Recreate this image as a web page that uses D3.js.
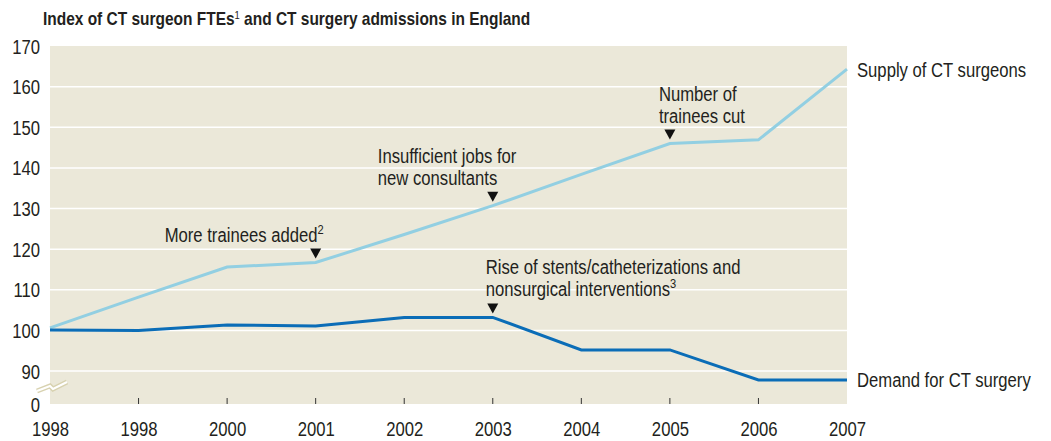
<!DOCTYPE html>
<html>
<head>
<meta charset="utf-8">
<script src="https://cdn.jsdelivr.net/npm/d3@7"></script>
<style>
  body { margin: 0; background: #fff; }
  svg text { font-family: "Liberation Sans", Arial, sans-serif; fill: #231f20; }
</style>
</head>
<body>
<div id="chart"></div>
<script>
const width = 1051;
const height = 441;

// data
const yearLabels = ['1998', '1998', '2000', '2001', '2002', '2003', '2004', '2005', '2006', '2007'];
const supply = [100.6, 108.2, 115.6, 116.7, 123.6, 130.7, 138.4, 146.0, 146.9, 164.3];
const demand = [100.1, 100.0, 101.3, 101.1, 103.2, 103.2, 95.2, 95.2, 87.8, 87.8];
const yTicks = [0, 90, 100, 110, 120, 130, 140, 150, 160, 170];
const notes = [
    { series: 'supply', i: 3, lines: ['More trainees added'], sup: '2', dx: -151 },
    { series: 'supply', i: 5, lines: ['Insufficient jobs for', 'new consultants'], sup: '', dx: -115 },
    { series: 'supply', i: 7, lines: ['Number of', 'trainees cut'], sup: '', dx: -11 },
    { series: 'demand', i: 5, lines: ['Rise of stents/catheterizations and', 'nonsurgical interventions'], sup: '3', dx: -7 }
];

const plot = { left: 50, right: 847, top: 46, bottom: 404 };
const narrow = 0.855;   // squeeze Arial metrics toward a condensed face
const fs = 19.5;

const svg = d3.select('#chart')
    .append('svg')
    .attr('width', width)
    .attr('height', height);

function label(g, px, py, size, sx) {
    return g.append('text')
        .attr('transform', `translate(${px},${py}) scale(${sx || narrow},1)`)
        .attr('font-size', size || fs);
}

const x = d3.scalePoint()
    .domain(d3.range(yearLabels.length))
    .range([plot.left, plot.right]);

// broken axis: everything under ~82 collapses onto the 0 baseline
const y = d3.scaleLinear()
    .domain([0, 81.88, 170])
    .range([plot.bottom, plot.bottom, plot.top]);

svg.append('rect')
    .attr('x', plot.left)
    .attr('y', plot.top)
    .attr('width', plot.right - plot.left)
    .attr('height', plot.bottom - plot.top)
    .attr('fill', '#ebe8d9');

// gridlines
svg.append('g')
    .selectAll('line')
    .data(yTicks.filter(d => d >= 90 && d < 170))
    .enter()
    .append('line')
    .attr('x1', plot.left)
    .attr('x2', plot.right)
    .attr('y1', d => y(d))
    .attr('y2', d => y(d))
    .attr('stroke', '#fff')
    .attr('stroke-width', 1.5);

// y axis labels
const yAxis = svg.append('g')
    .attr('transform', `translate(${plot.left - 10}, 0)`)
    .call(d3.axisLeft(y).tickValues(yTicks).tickSize(0).tickPadding(0));
yAxis.select('.domain').remove();
yAxis.selectAll('text')
    .attr('font-size', fs)
    .attr('x', 0)
    .attr('dy', '0.36em')
    .attr('transform', `scale(${narrow},1)`)
    .style('font-family', null);

// axis break mark
const brk = 'M37,391 L50,386 L53,389 L67,382';
svg.append('path').attr('d', brk).attr('fill', 'none').attr('stroke', '#d8d2b0').attr('stroke-width', 5);
svg.append('path').attr('d', brk).attr('fill', 'none').attr('stroke', '#fff').attr('stroke-width', 2);

// x axis
const xAxis = svg.append('g')
    .attr('transform', `translate(0, ${plot.bottom})`)
    .call(d3.axisBottom(x).tickFormat(i => yearLabels[i]).tickSize(0).tickPadding(18));
xAxis.select('.domain').remove();
xAxis.selectAll('text')
    .attr('font-size', fs)
    .attr('transform', `scale(${narrow},1)`)
    .style('font-family', null);

svg.append('g')
    .selectAll('line')
    .data(d3.range(1, yearLabels.length - 1))
    .enter()
    .append('line')
    .attr('x1', d => x(d))
    .attr('x2', d => x(d))
    .attr('y1', plot.bottom - 6)
    .attr('y2', plot.bottom)
    .attr('stroke', '#333')
    .attr('stroke-width', 1);

// lines
const line = d3.line()
    .x((d, i) => x(i))
    .y(d => y(d));

svg.append('path')
    .datum(supply)
    .attr('d', line)
    .attr('fill', 'none')
    .attr('stroke', '#92cfe2')
    .attr('stroke-width', 3);

svg.append('path')
    .datum(demand)
    .attr('d', line)
    .attr('fill', 'none')
    .attr('stroke', '#0b6db7')
    .attr('stroke-width', 3);

// series labels
label(svg, plot.right + 10, y(supply[supply.length - 1]) + 8).text('Supply of CT surgeons');
label(svg, plot.right + 10, y(demand[demand.length - 1]) + 7).text('Demand for CT surgery');

// annotations
notes.forEach(n => {
    const v = n.series === 'supply' ? supply[n.i] : demand[n.i];
    const px = x(n.i);
    const py = y(v);
    svg.append('path')
        .attr('d', `M${px - 5.5},${py - 14} L${px + 5.5},${py - 14} L${px},${py - 4} Z`)
        .attr('fill', '#111');
    const nLines = n.lines.length;
    n.lines.forEach((t, k) => {
        const txt = label(svg, px + n.dx, py - 21 - (nLines - 1 - k) * 22).text(t);
        if (k === nLines - 1 && n.sup) {
            txt.append('tspan')
                .attr('dy', -8)
                .attr('font-size', 13)
                .text(n.sup);
        }
    });
});

// title
const title = label(svg, 43, 25, 18, 0.86)
    .attr('font-weight', 'bold')
    .text('Index of CT surgeon FTEs');
title.append('tspan')
    .attr('dy', -6)
    .attr('font-size', 11)
    .attr('font-weight', 'normal')
    .text('1');
title.append('tspan')
    .attr('dy', 6)
    .text(' and CT surgery admissions in England');
</script>
</body>
</html>
